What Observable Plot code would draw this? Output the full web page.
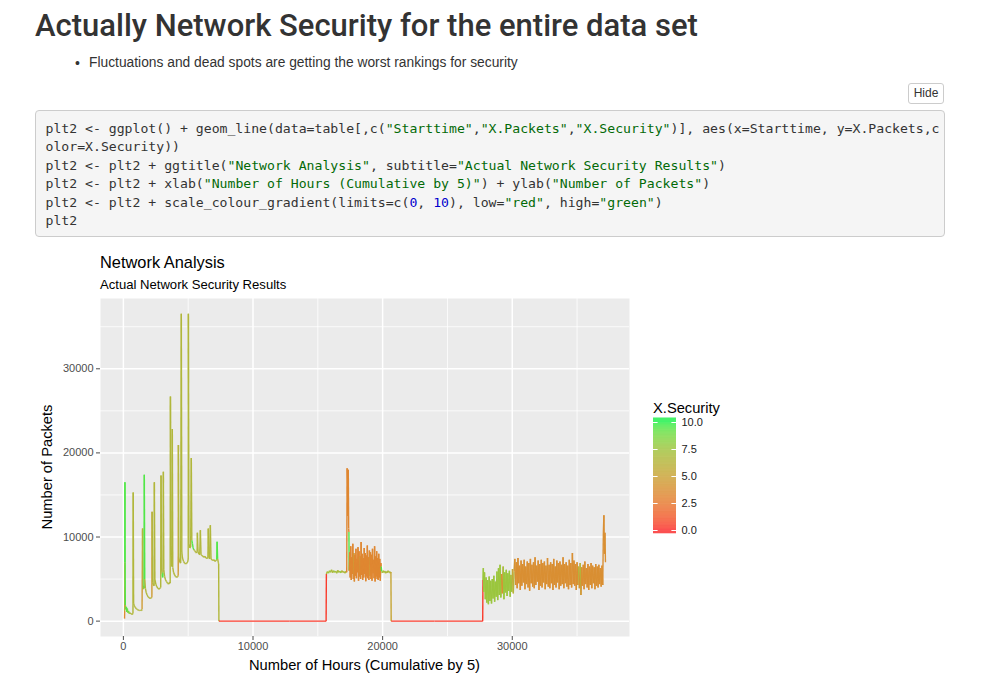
<!DOCTYPE html>
<html><head><meta charset="utf-8">
<script src="https://cdn.jsdelivr.net/npm/d3@7"></script>
<script src="https://cdn.jsdelivr.net/npm/@observablehq/plot@0.6"></script>
<style>
body{margin:0;background:#fff;font-family:"Liberation Sans",Arial,sans-serif;color:#333;}
#page{position:relative;width:982px;height:696px;overflow:hidden;}
.abs{position:absolute;white-space:nowrap;line-height:1;}
#h1{left:35px;top:10px;font-family:Roboto,"Liberation Sans",sans-serif;font-weight:500;font-size:31px;color:#333;}
#bul{left:89px;top:56px;font-size:13.8px;color:#333;}
#dot{left:75px;top:56px;font-size:14px;}
#hide{position:absolute;left:908px;top:83px;width:36px;height:21px;box-sizing:border-box;border:1px solid #ccc;border-radius:3px;font-size:12px;line-height:19px;text-align:center;color:#333;background:#fff;}
#code{position:absolute;left:35px;top:110px;width:910px;height:127px;box-sizing:border-box;margin:0;padding:9px 9px 9px 9.5px;background:#f5f5f5;border:1px solid #ccc;border-radius:4px;font-family:"DejaVu Sans Mono",monospace;font-size:13.15px;line-height:18.4px;color:#333;overflow:hidden;}
#code div{white-space:pre;height:18.4px;}
.s{color:#036A07}.n{color:#0000CD}
#ct{left:100px;top:254px;font-size:16.4px;color:#000;}
#cs{left:100px;top:277.5px;font-size:13.1px;color:#000;}
#xt{left:364.5px;top:657.5px;font-size:14.7px;color:#000;transform:translateX(-50%);}
#yt{left:47px;top:467px;font-size:14.7px;color:#000;transform:translate(-50%,-50%) rotate(-90deg);}
#lt{left:653px;top:400.5px;font-size:14.7px;color:#000;}
#chart{position:absolute;left:0;top:290px;}
#legend{position:absolute;left:640px;top:400px;}
</style></head>
<body><div id="page">
<div class="abs" id="h1">Actually Network Security for the entire data set</div>
<div class="abs" id="dot">•</div>
<div class="abs" id="bul">Fluctuations and dead spots are getting the worst rankings for security</div>
<div id="hide">Hide</div>
<div id="code"><div><span>plt2 &lt;- ggplot() + geom_line(data=table[,c(</span><span class="s">"Starttime"</span><span>,</span><span class="s">"X.Packets"</span><span>,</span><span class="s">"X.Security"</span><span>)], aes(x=Starttime, y=X.Packets,c</span></div><div><span>olor=X.Security))</span></div><div><span>plt2 &lt;- plt2 + ggtitle(</span><span class="s">"Network Analysis"</span><span>, subtitle=</span><span class="s">"Actual Network Security Results"</span><span>)</span></div><div><span>plt2 &lt;- plt2 + xlab(</span><span class="s">"Number of Hours (Cumulative by 5)"</span><span>) + ylab(</span><span class="s">"Number of Packets"</span><span>)</span></div><div><span>plt2 &lt;- plt2 + scale_colour_gradient(limits=c(</span><span class="n">0</span><span>, </span><span class="n">10</span><span>), low=</span><span class="s">"red"</span><span>, high=</span><span class="s">"green"</span><span>)</span></div><div><span>plt2</span></div></div>
<div class="abs" id="ct">Network Analysis</div>
<div class="abs" id="cs">Actual Network Security Results</div>
<div id="chart"></div>
<div class="abs" id="xt">Number of Hours (Cumulative by 5)</div>
<div class="abs" id="yt">Number of Packets</div>
<div class="abs" id="lt">X.Security</div>
<div id="legend"></div>
</div>
<script>
// rows: [Starttime (hours), X.Packets, X.Security]
const burst = [
[90,300,3.5],[100,1200,6.5],[110,7000,9.5],[120,16500,9.5],[135,7000,9.5],[150,1900,6.5],[190,1400,9.5],[230,1700,9.5],[270,1100,9.5],[310,1500,9],[350,1000,8],[400,1200,9],[450,900,7],[500,1000,6.5],[560,850,6.5],[620,900,6.5],[680,800,6.5],[740,900,6.5],
[760,15300,6.5],[790,2100,6.5],[830,1900,6.5],[880,1700,6.5],[940,1600,6.5],[1000,1450,6.5],[1080,1400,6.5],[1160,1300,6.5],[1240,1250,6.5],[1320,1300,6.5],[1400,1250,6.5],[1440,1400,4.5],
[1480,11000,6.5],[1510,3800,6.5],[1560,4200,6.5],[1600,3900,9.5],[1615,17400,9.5],[1650,5000,6.5],[1700,3900,6.5],[1760,3400,6.5],[1830,3100,6.5],[1900,2900,6.5],[1980,2800,6.5],[2060,2700,6.5],[2140,2750,6.5],[2200,2800,4.5],
[2215,13000,6.5],[2260,4600,6.5],[2320,4300,6.5],[2370,4200,6.5],[2390,16500,6.5],[2430,5000,6.5],[2500,4400,6.5],[2580,4100,6.5],[2660,3900,6.5],[2740,3800,6.5],[2820,3900,6.5],[2880,4000,6.5],
[2905,17300,6.5],[2950,6200,6.5],[2990,5600,9.5],[3030,5200,9.5],[3060,5800,6.5],[3085,17770,6.5],[3120,6100,6.5],[3180,5300,6.5],[3250,4900,6.5],[3330,4700,6.5],[3410,4500,6.5],[3490,4400,6.5],[3560,4600,6.5],[3610,4500,6.5],
[3630,26700,6.5],[3670,9000,6.5],[3700,7800,6.5],[3740,6500,6.5],[3775,22850,6.5],[3810,6400,6.5],[3870,5800,6.5],[3950,5500,6.5],[4030,5300,6.5],[4110,5200,6.5],[4180,5300,6.5],[4230,5400,4.5],
[4245,20950,6.5],[4280,7600,6.5],[4340,7000,6.5],[4420,6900,6.5],[4470,36530,6.5],[4510,8200,6.5],[4560,7500,6.5],[4640,7100,6.5],[4720,6900,6.5],[4800,6800,6.5],[4880,6900,6.5],[4960,7000,6.5],[5000,7400,6.5],
[5015,36530,6.5],[5060,9200,6.5],[5120,8700,6.5],[5190,8800,6.5],[5240,19400,6.5],[5280,9600,9.5],[5330,9200,9.5],[5380,8700,9.5],[5430,8500,6.5],[5500,8400,6.5],[5570,8200,6.5],[5640,8100,6.5],[5690,8300,6.5],
[5710,10500,6.5],[5760,8200,6.5],[5830,8000,6.5],[5890,7900,6.5],[5940,10800,6.5],[5990,7900,6.5],[6060,7800,6.5],[6140,7700,6.5],[6220,7600,6.5],[6300,7700,6.5],[6380,7500,6.5],[6460,7450,6.5],[6520,7500,6.5],
[6550,11000,6.5],[6600,7600,6.5],[6650,7400,6.5],[6710,11400,6.5],[6760,7400,6.5],[6830,7300,6.5],[6900,7200,6.5],[6980,7300,6.5],[7060,7100,6.5],[7140,7200,6.5],[7200,7300,9.5],[7230,9440,9.5],[7270,7400,6.5],[7320,7000,6.5],[7350,6800,6.5]
];
const idle1 = [[7370,0,0.3],[10000,0,0.3],[12800,0,0.3],[15640,0,0.3]];
const mid = [
[15660,5600,7],[15740,5900,6.5],[15820,5700,8],[15900,6000,6.5],[15980,5800,7.5],[16060,6100,6.5],[16140,5750,6.5],[16220,6000,8],[16300,5800,6.5],[16380,5950,6.5],[16460,5700,7.5],[16540,6050,6.5],[16620,5800,6.5],[16700,5950,8.5],[16780,5750,6.5],[16860,6000,6.5],[16940,5800,6.5],[17020,5900,7],[17100,5700,6.5],[17180,5950,6.5],
[17230,5800,3.2],[17260,18180,3.2],[17290,16800,3.2],[17320,12500,3.2],[17350,18000,3.2],[17380,11000,3.2],[17400,10600,9.5],[17420,6000,3.2],
[17460,8200,3.2],[17500,5200,3.2],[17540,8900,3.2],[17580,4900,3.2],[17620,7600,3.2],[17660,5600,3.2],[17700,9200,3.2],[17740,5000,3.2],[17780,8100,4.5],[17820,4700,3.2],[17860,7900,3.2],[17900,5400,3.2],[17940,8600,3.2],[17980,5100,3.2],[18020,7400,3.2],[18060,5800,3.2],
[18100,8800,3.2],[18140,4800,3.2],[18180,8300,3.2],[18220,5300,3.2],[18260,7700,4.5],[18300,5000,3.2],[18340,9400,3.2],[18380,5500,3.2],[18420,8000,3.2],[18460,4900,3.2],[18500,7500,3.2],[18540,5200,3.2],[18580,8700,3.2],[18620,5600,3.2],[18660,8100,3.2],[18700,4750,3.2],
[18740,7800,3.2],[18780,5300,3.2],[18820,9000,3.2],[18860,5100,3.2],[18900,7600,3.2],[18940,4900,3.2],[18980,8400,3.2],[19020,5400,4.5],[19060,8200,3.2],[19100,5000,3.2],[19140,7900,3.2],[19180,4800,3.2],[19220,8600,3.2],[19260,5700,3.2],[19300,7300,3.2],[19340,5100,3.2],
[19380,8900,3.2],[19420,4700,3.2],[19460,7700,3.2],[19500,5300,3.2],[19540,8300,3.2],[19580,5000,3.2],[19620,7500,3.2],[19660,4900,3.2],[19700,8000,3.2],[19740,5200,3.2],[19780,7400,3.2],[19820,4800,3.2],[19860,6900,3.2],
[19890,6500,9.5],[19930,5900,6.5],[19990,5750,7],[20050,6000,6.5],[20110,5800,8],[20170,5950,6.5],[20230,5700,6.5],[20290,5900,7],[20350,5750,6.5],[20410,6000,6.5],[20470,5800,7.5],[20530,5900,6.5],[20590,5700,6.5],[20640,5850,5.2]
];
const idle2 = [[20660,0,0.3],[24000,0,0.3],[27720,0,0.3]];
const late = [
[27740,4900,7.6],[27770,6300,7.6],[27800,3500,7.6],[27860,5800,7.6],[27920,2600,7.6],[27980,5200,7.6],[28040,2200,7.6],[28100,4900,7.6],[28160,2000,7.6],[28220,5300,7.6],[28280,2400,7.6],[28340,4800,7.6],[28400,2100,7.6],[28460,5000,7.6],[28520,2700,7.6],[28580,5400,7.6],
[28640,2300,7.6],[28700,4700,7.6],[28760,2900,7.6],[28820,5900,7.6],[28880,2500,7.6],[28940,6300,7.6],[29000,3100,7.6],[29060,6700,7.6],[29120,2800,7.6],[29180,5600,3.8],[29240,3300,3.8],[29300,6500,7.6],[29360,2600,7.6],[29420,5800,7.6],[29480,3400,7.6],[29540,6100,7.6],
[29600,3000,7.6],[29660,5700,7.6],[29720,3600,7.6],[29780,6000,7.6],[29840,2900,7.6],[29900,5500,6],[29960,3500,7.6],[30020,6200,5],[30080,3300,6.5],[30140,5900,4.5],
[30200,7400,3.7],[30260,4300,3.7],[30320,7000,3.7],[30380,3900,3.7],[30440,7500,3.7],[30500,4500,3.7],[30560,6600,3.7],[30620,3700,3.7],[30680,7200,3.7],[30740,4200,3.7],[30800,6800,3.7],[30860,4600,3.7],[30920,7300,3.7],[30980,3800,3.7],[31040,6500,3.7],[31100,4400,3.7],
[31160,7100,3.7],[31220,4000,3.7],[31280,6900,3.7],[31340,3600,3.7],[31400,7400,3.7],[31460,4500,3.7],[31520,6700,3.7],[31580,4100,3.7],[31640,7000,3.7],[31700,3900,3.7],[31760,7600,3.7],[31820,4300,3.7],[31880,6600,3.7],[31940,4700,3.7],[32000,7200,3.7],[32060,3700,3.7],
[32120,6800,3.7],[32180,4200,3.7],[32240,7300,3.7],[32300,4000,3.7],[32360,6900,3.7],[32420,4600,3.7],[32480,7100,3.7],[32540,3800,3.7],[32600,6600,3.7],[32660,4400,3.7],[32720,7500,3.7],[32780,4100,3.7],[32840,6700,3.7],[32900,3900,3.7],[32960,7000,3.7],[33020,4500,3.7],
[33080,6800,3.7],[33140,3700,3.7],[33200,7400,3.7],[33260,4300,3.7],[33320,6500,3.7],[33380,4000,3.7],[33440,7200,3.7],[33500,4600,3.7],[33560,6900,3.7],[33620,3800,3.7],[33680,7100,3.7],[33740,4200,3.7],[33800,6700,3.7],[33860,4400,3.7],[33920,7600,3.7],[33980,3900,3.7],
[34040,6800,3.7],[34100,4500,3.7],[34160,7000,3.7],[34220,4100,3.7],[34280,6600,3.7],[34340,3800,3.7],[34400,7300,3.7],[34460,4300,3.7],[34520,6900,3.7],[34580,4000,3.7],[34640,8100,3.7],[34700,4400,3.7],[34760,7200,3.7],[34820,4200,3.7],[34880,6800,3.7],[34940,3700,3.7],
[35000,7000,3.7],[35060,4300,3.7],[35120,6500,6.5],[35180,3900,3.7],[35240,6900,6.5],[35300,3100,3.7],[35360,6400,3.7],[35420,4200,3.7],[35480,6700,3.7],[35540,3800,3.7],[35600,7100,3.7],[35660,4400,3.7],[35720,6300,3.7],[35780,4000,3.7],[35840,6800,3.7],[35900,3700,3.7],
[35960,6500,3.7],[36020,4300,3.7],[36080,6900,3.7],[36140,3900,3.7],[36200,6600,3.7],[36260,4500,3.7],[36320,6400,3.7],[36380,3800,3.7],[36440,6800,3.7],[36500,4200,3.7],[36560,6500,3.7],[36620,4000,3.7],[36680,6700,3.7],[36740,4400,3.7],[36800,6300,3.7],[36860,4100,3.7],
[36920,6600,3.7],[36980,4300,3.7],[37030,10600,3.7],[37070,12600,3.7],[37110,8000,3.7],[37150,10500,3.7],[37190,7000,3.7]
];
const xMajor = [0, 10000, 20000, 30000];
const xMinor = [5000, 15000, 25000, 35000];
const yMajor = [0, 10000, 20000, 30000];
const yMinor = [5000, 15000, 25000, 35000];
const legendTicks = [0, 2.5, 5, 7.5, 10];
// colour stops
const colorStops = [0, 2.5, 5, 7.5, 10];
const colorRange = ["#fb2c2c", "#e67a30", "#c9a336", "#9ec43e", "#1ef04a"];

const rows = [...burst, ...idle1, ...mid, ...idle2, ...late];
const segs = d3.pairs(rows).map(([a, b]) => ({x1: a[0], y1: a[1], x2: b[0], y2: b[1], s: a[2]}));
function expand([lo, hi]) { const p = 0.05 * (hi - lo); return [lo - p, hi + p]; }
const xDom = expand(d3.extent(rows, r => r[0]));
const yDom = expand(d3.extent(rows, r => r[1]));
const colorOpts = {type: "linear", domain: colorStops, range: colorRange, interpolate: "lab", clamp: true};

const chart = Plot.plot({
  width: 640, height: 390,
  marginLeft: 100, marginRight: 11, marginTop: 8, marginBottom: 44,
  x: {domain: xDom, axis: null},
  y: {domain: yDom, axis: null},
  color: colorOpts,
  style: {fontFamily: "Liberation Sans, Arial, sans-serif", color: "#4d4d4d", background: "transparent", overflow: "visible"},
  marks: [
    Plot.frame({fill: "#ebebeb", stroke: null}),
    Plot.ruleX(xMinor, {stroke: "#fff", strokeWidth: 0.8}),
    Plot.ruleY(yMinor, {stroke: "#fff", strokeWidth: 0.8}),
    Plot.ruleX(xMajor, {stroke: "#fff", strokeWidth: 1.5}),
    Plot.ruleY(yMajor, {stroke: "#fff", strokeWidth: 1.5}),
    Plot.link(segs, {x1: "x1", y1: "y1", x2: "x2", y2: "y2", stroke: "s", strokeWidth: 1.4}),
    Plot.axisX({ticks: xMajor, tickFormat: d => String(d), tickSize: 4, tickPadding: 2, fontSize: 11, label: null}),
    Plot.axisY({ticks: yMajor, tickFormat: d => String(d), tickSize: 4, tickPadding: 3, fontSize: 11, label: null})
  ]
});
document.getElementById("chart").appendChild(chart);

const bins = d3.range(-0.3, 10.4, 0.05);
const legend = Plot.plot({
  width: 100, height: 145,
  margin: 0,
  x: {domain: [0, 1], range: [13, 36], axis: null},
  y: {domain: [0, 10], range: [130, 22], axis: null},
  color: colorOpts,
  style: {fontFamily: "Liberation Sans, Arial, sans-serif", background: "transparent", overflow: "visible"},
  marks: [
    Plot.rect(bins, {x1: 0, x2: 1, y1: d => d, y2: d => d + 0.06, fill: d => d}),
    Plot.ruleY(legendTicks, {x1: 0, x2: 0.2, stroke: "#fff", strokeWidth: 1}),
    Plot.ruleY(legendTicks, {x1: 0.8, x2: 1, stroke: "#fff", strokeWidth: 1}),
    Plot.text(legendTicks, {x: 1, y: d => d, text: d => d.toFixed(1), dx: 5, textAnchor: "start", fontSize: 11, fill: "#1a1a1a"})
  ]
});
document.getElementById("legend").appendChild(legend);
</script>
</body></html>
